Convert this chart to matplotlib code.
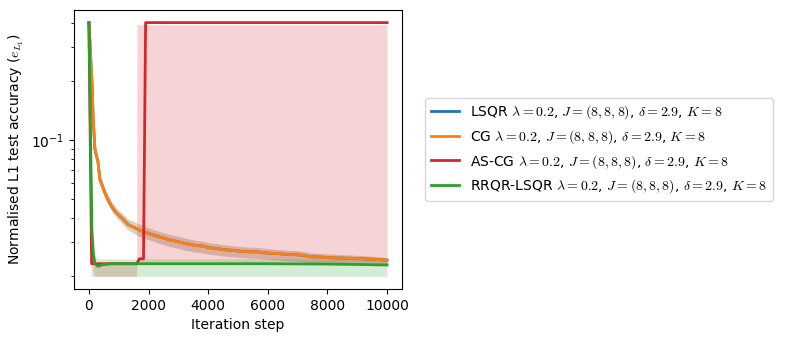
import matplotlib
matplotlib.use('Agg')
import matplotlib.pyplot as plt

plt.rcParams['mathtext.fontset'] = 'cm'

# CG (orange); LSQR lies underneath it with the same curve
cg_x = [0, 100, 145, 200, 258, 300, 370, 450, 537, 650, 760, 870, 985, 1150, 1320, 1500, 1655,
        1850, 2100, 2400, 2660, 2950, 3220, 3560, 3800, 4060, 4300, 4510, 4800, 5180, 5400, 5630,
        6000, 6300, 6650, 6970, 7200, 7420, 7750, 8090, 8500, 8980, 9400, 9700, 10000]
cg_mean = [0.4, 0.2, 0.126, 0.09, 0.082, 0.078, 0.0625, 0.058, 0.0535, 0.049, 0.0457, 0.0432,
           0.0414, 0.0392, 0.0368, 0.0357, 0.0347, 0.0338, 0.0328, 0.0317, 0.0309, 0.0302,
           0.0295, 0.0288, 0.0286, 0.028, 0.0278, 0.0274, 0.0272, 0.0268, 0.0267, 0.0267,
           0.0263, 0.0262, 0.0259, 0.0258, 0.0256, 0.0252, 0.0251, 0.0249, 0.0248, 0.0247,
           0.0245, 0.0244, 0.0242]
cg_low = [0.38, 0.19, 0.12, 0.086, 0.078, 0.074, 0.059, 0.055, 0.0505, 0.0462, 0.0432, 0.0408,
          0.039, 0.0368, 0.0345, 0.0333, 0.0322, 0.0314, 0.0305, 0.0294, 0.0286, 0.0279,
          0.0272, 0.0266, 0.0264, 0.0259, 0.0257, 0.0254, 0.0252, 0.0249, 0.0248, 0.0247,
          0.0244, 0.0243, 0.024, 0.0239, 0.0237, 0.0234, 0.0233, 0.0231, 0.023, 0.0229,
          0.0227, 0.0226, 0.0225]
cg_high = [0.4, 0.21, 0.132, 0.094, 0.086, 0.082, 0.066, 0.061, 0.0565, 0.052, 0.0484, 0.0458,
           0.0438, 0.0416, 0.0392, 0.0382, 0.0373, 0.0362, 0.035, 0.0338, 0.0329, 0.0322,
           0.0314, 0.0306, 0.0303, 0.0297, 0.0294, 0.029, 0.0287, 0.0283, 0.0282, 0.0281,
           0.0277, 0.0275, 0.0272, 0.0271, 0.0268, 0.0264, 0.0262, 0.026, 0.0258, 0.0256,
           0.0254, 0.0252, 0.0249]

lsqr_x = cg_x
lsqr_mean = cg_mean
lsqr_low = cg_low
lsqr_high = cg_high

# AS-CG (red)
ascg_x = [0, 90, 1600, 1610, 1690, 1830, 1900, 10000]
ascg_mean = [0.4, 0.0232, 0.0232, 0.0232, 0.0246, 0.0246, 0.4, 0.4]
ascg_low = [0.38, 0.02, 0.02, 0.0236, 0.0236, 0.0236, 0.0236, 0.0236]
ascg_high = [0.4, 0.0232, 0.0232, 0.39, 0.39, 0.39, 0.39, 0.39]

# RRQR-LSQR (green)
rrqr_x = [0, 100, 150, 200, 300, 450, 700, 1500, 3000, 6000, 8000, 10000]
rrqr_mean = [0.4, 0.034, 0.026, 0.0233, 0.0225, 0.0229, 0.0232, 0.0232, 0.0232, 0.0232,
             0.0231, 0.0229]
rrqr_low = [0.38, 0.03, 0.021, 0.02, 0.02, 0.02, 0.02, 0.02, 0.02, 0.02, 0.02, 0.02]
rrqr_high = [0.4, 0.04, 0.03, 0.0255, 0.0246, 0.0246, 0.0246, 0.0246, 0.0246, 0.0246,
             0.0245, 0.0244]

params = r' $\lambda=0.2$, $J=(8,8,8)$, $\delta=2.9$, $K=8$'
series = [
    ('LSQR', lsqr_x, lsqr_mean, lsqr_low, lsqr_high, 'tab:blue'),
    ('CG', cg_x, cg_mean, cg_low, cg_high, 'tab:orange'),
    ('AS-CG', ascg_x, ascg_mean, ascg_low, ascg_high, 'tab:red'),
    ('RRQR-LSQR', rrqr_x, rrqr_mean, rrqr_low, rrqr_high, 'tab:green'),
]

fig = plt.figure(figsize=(7.85, 3.42), dpi=100)
ax = fig.add_axes([0.0943, 0.155, 0.4178, 0.816])

for name, x, m, lo, hi, c in series:
    ax.plot(x, m, color=c, linewidth=2, label=name + params)
    ax.fill_between(x, lo, hi, color=c, alpha=0.2, linewidth=0)

ax.set_yscale('log')
ax.set_xlabel('Iteration step')
ax.set_ylabel(r'Normalised L1 test accuracy ($e_{L_1}$)')
ax.legend(loc='center left', bbox_to_anchor=(1.05, 0.5))

fig.savefig('out.png', dpi=100)
